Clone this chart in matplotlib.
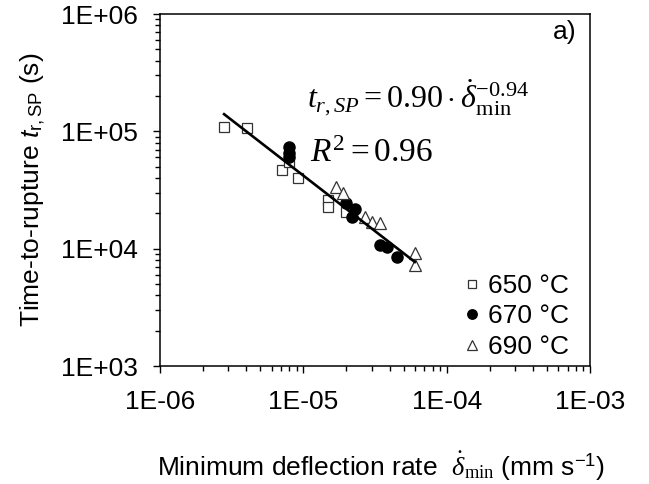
import numpy as np
import matplotlib
matplotlib.use("Agg")
from matplotlib import pyplot as plt
from matplotlib.ticker import FuncFormatter

# data: minimum deflection rate (mm/s), time to rupture (s)
rate_650 = [2.8e-6, 4.05e-6, 7.1e-6, 8.0e-6, 9.2e-6, 1.49e-5, 1.49e-5, 2.0e-5]
time_650 = [1.09e5, 1.07e5, 4.7e4, 5.5e4, 4.0e4, 2.6e4, 2.25e4, 2.05e4]

rate_670 = [7.9e-6, 7.9e-6, 7.9e-6, 2.0e-5, 2.3e-5, 2.2e-5, 3.45e-5, 3.85e-5, 4.5e-5]
time_670 = [7.3e4, 6.6e4, 6.0e4, 2.45e4, 2.18e4, 1.86e4, 1.07e4, 1.03e4, 8.5e3]

rate_690 = [1.69e-5, 1.89e-5, 2.7e-5, 3.0e-5, 3.45e-5, 6.0e-5, 6.0e-5]
time_690 = [3.35e4, 2.98e4, 1.86e4, 1.69e4, 1.65e4, 9.2e3, 7.2e3]

# ends of the fitted power-law line
fit_rate = [2.8e-6, 6.0e-5]
fit_time = [1.4e5, 7.7e3]

plt.rcParams['font.family'] = ['Liberation Sans', 'DejaVu Sans']
plt.rcParams['mathtext.fontset'] = 'custom'
plt.rcParams['mathtext.rm'] = 'Liberation Serif'
plt.rcParams['mathtext.it'] = 'Liberation Serif:italic'
plt.rcParams['mathtext.sf'] = 'Liberation Sans'
# \mathbf is used for the sans italic "t" of the y label
plt.rcParams['mathtext.bf'] = 'Liberation Sans:italic'

fs = 19

fig = plt.figure(figsize=(6.49, 4.84), dpi=100)
ax = fig.add_axes([160 / 649, 1 - 366 / 484, 430 / 649, 352 / 484])

ax.plot(rate_650, time_650, ls='none', marker='s', ms=7.5, mfc='white',
        mec='#333333', mew=0.9, label='650 °C')
ax.plot(rate_670, time_670, ls='none', marker='o', ms=8, mfc='black',
        mec='black', label='670 °C')
ax.plot(rate_690, time_690, ls='none', marker='^', ms=8.5, mfc='white',
        mec='#333333', mew=0.9, label='690 °C')

ax.plot(fit_rate, fit_time, color='black', lw=1.9)

ax.set_xscale('log')
ax.set_yscale('log')
ax.set_xlim(1e-6, 1e-3)
ax.set_ylim(1e3, 1e6)

fmt = FuncFormatter(lambda v, p: f"{v:.0E}")
ax.xaxis.set_major_formatter(fmt)
ax.yaxis.set_major_formatter(fmt)
ax.tick_params(which='major', direction='out', length=5, width=1.0,
               labelsize=fs)
ax.tick_params(axis='x', which='major', pad=12)
ax.tick_params(axis='y', which='major', pad=11)
ax.tick_params(which='minor', direction='out', length=3.5, width=1.0)
for s in ax.spines.values():
    s.set_linewidth(1.1)

ax.set_xlabel(r'Minimum deflection rate  $\dot{\delta}_{\rm min}$ (mm s$^{\mathsf{-1}}$)',
              fontsize=fs)
ax.set_ylabel(r'Time-to-rupture $\mathbf{t}_{\mathsf{r,SP}}$ (s)', fontsize=fs)
ax.xaxis.set_label_coords(0.514, -0.237)
ax.yaxis.set_label_coords(-0.262, 0.5)

ax.text(0.342, 0.733, r'$t_{r,SP} = 0.90 \cdot \dot{\delta}_{\rm min}^{-0.94}$',
        transform=ax.transAxes, fontsize=23, va='baseline')
ax.text(0.349, 0.58, r'$R^2 = 0.96$', transform=ax.transAxes, fontsize=24,
        va='baseline')

ax.text(0.94, 0.949, 'a)', transform=ax.transAxes, fontsize=fs,
        ha='center', va='center')

ax.legend(loc='lower right', bbox_to_anchor=(0.95, 0.02), frameon=False,
          fontsize=fs, handletextpad=0.2, labelspacing=0.25, borderpad=0,
          borderaxespad=0, handlelength=0.8, markerscale=0.85)

fig.savefig('out.png', dpi=100)
